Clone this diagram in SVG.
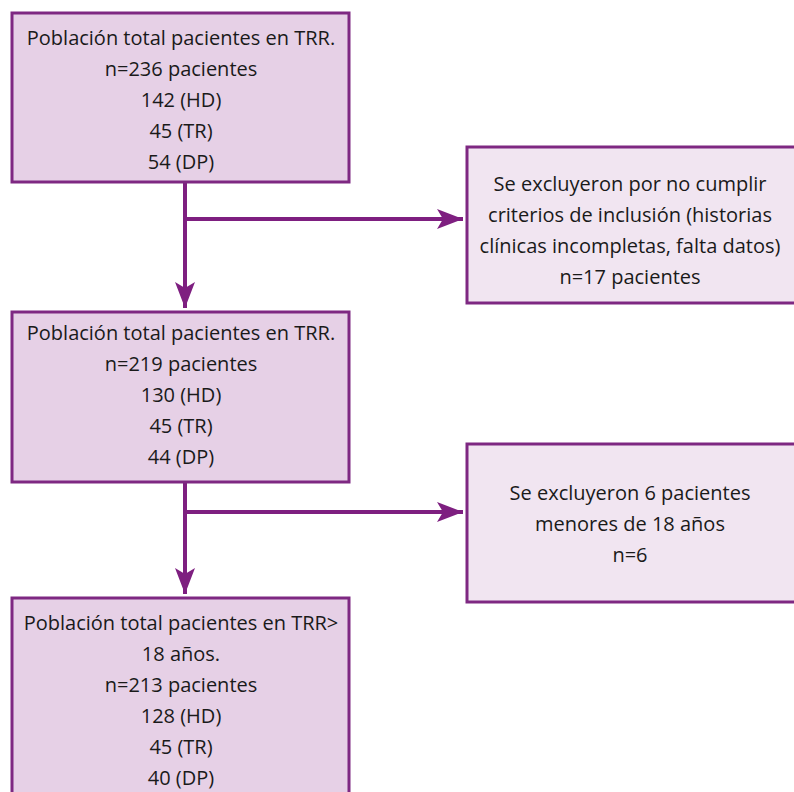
<svg xmlns="http://www.w3.org/2000/svg" width="794" height="792" viewBox="0 0 794 792">
<defs>
<style>
.box{fill:#E6D0E6;stroke:#7E2882;stroke-width:3}
.boxr{fill:#F1E5F1;stroke:#7E2882;stroke-width:3}
.t{font-family:"Open Sans","Liberation Sans",sans-serif;font-size:20px;fill:#1a1a1a;text-anchor:middle}
.c{fill:none;stroke:#7E1F80;stroke-width:4}
</style>
<marker id="ah" viewBox="0 0 26 20" refX="26" refY="10" markerWidth="26" markerHeight="20" markerUnits="userSpaceOnUse" orient="auto">
<path d="M0,0 L26,10 L0,20 L6,10 Z" fill="#7E1F80"/>
</marker>
</defs>
<g id="connectors">
<path class="c" d="M185,182 V308" marker-end="url(#ah)"/>
<path class="c" d="M185,219 H463" marker-end="url(#ah)"/>
<path class="c" d="M185,482 V594" marker-end="url(#ah)"/>
<path class="c" d="M185,512 H463" marker-end="url(#ah)"/>
</g>
<g id="n1">
<rect class="box" x="12" y="13" width="337" height="169"/>
<text class="t" x="181" y="45">Población total pacientes en TRR.</text>
<text class="t" x="181" y="76">n=236 pacientes</text>
<text class="t" x="181" y="107">142 (HD)</text>
<text class="t" x="181" y="138">45 (TR)</text>
<text class="t" x="181" y="169">54 (DP)</text>
</g>
<g id="n2">
<rect class="boxr" x="467" y="147" width="330" height="156"/>
<text class="t" x="630" y="191">Se excluyeron por no cumplir</text>
<text class="t" x="630" y="222">criterios de inclusión (historias</text>
<text class="t" x="630" y="253">clínicas incompletas, falta datos)</text>
<text class="t" x="630" y="284">n=17 pacientes</text>
</g>
<g id="n3">
<rect class="box" x="12" y="312" width="337" height="170"/>
<text class="t" x="181" y="340">Población total pacientes en TRR.</text>
<text class="t" x="181" y="371">n=219 pacientes</text>
<text class="t" x="181" y="402">130 (HD)</text>
<text class="t" x="181" y="433">45 (TR)</text>
<text class="t" x="181" y="464">44 (DP)</text>
</g>
<g id="n4">
<rect class="boxr" x="467" y="444" width="330" height="158"/>
<text class="t" x="630" y="500">Se excluyeron 6 pacientes</text>
<text class="t" x="630" y="531">menores de 18 años</text>
<text class="t" x="630" y="562">n=6</text>
</g>
<g id="n5">
<rect class="box" x="12" y="598" width="337" height="210"/>
<text class="t" x="181" y="630">Población total pacientes en TRR&gt;</text>
<text class="t" x="181" y="661">18 años.</text>
<text class="t" x="181" y="692">n=213 pacientes</text>
<text class="t" x="181" y="723">128 (HD)</text>
<text class="t" x="181" y="754">45 (TR)</text>
<text class="t" x="181" y="785">40 (DP)</text>
</g>
</svg>
